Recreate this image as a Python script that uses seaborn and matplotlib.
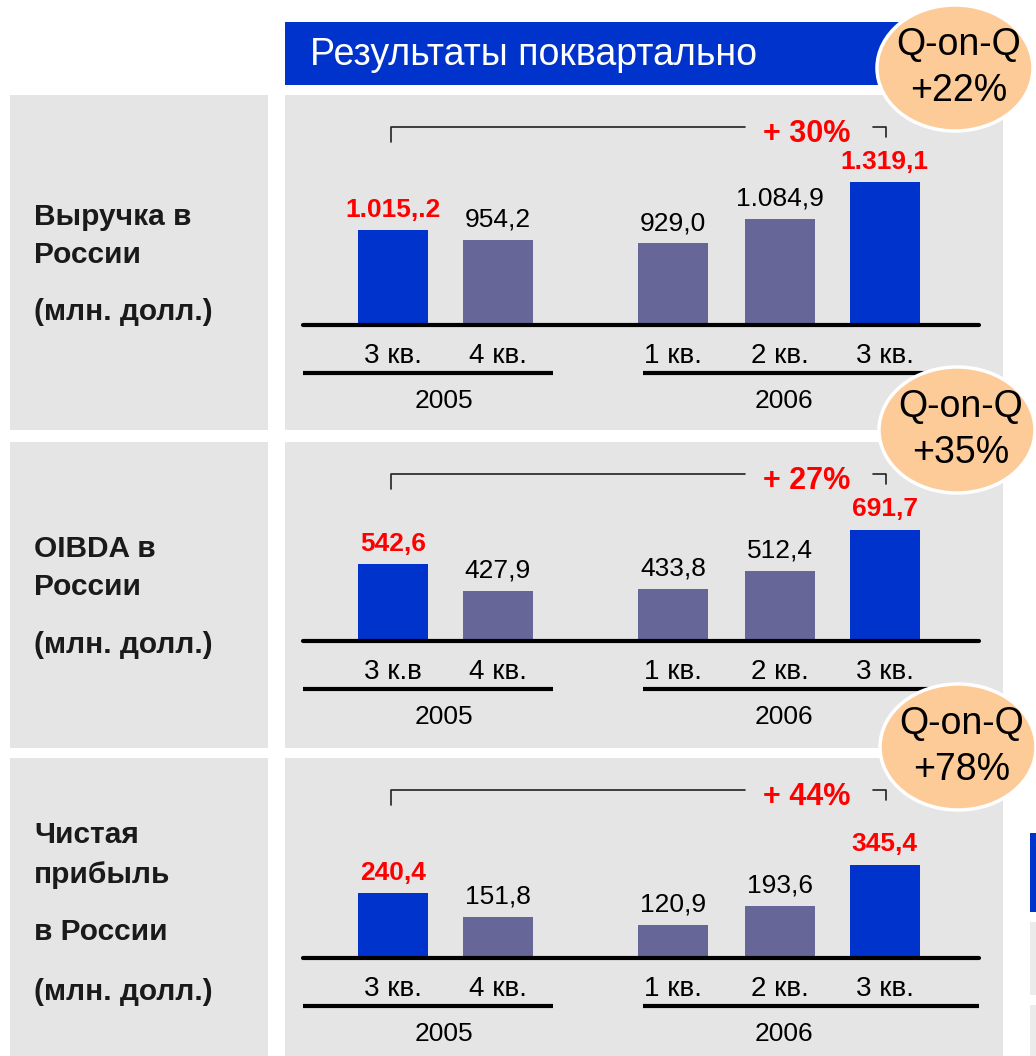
import numpy as np
import pandas as pd
import matplotlib
matplotlib.use("Agg")
import matplotlib.pyplot as plt
from matplotlib.patches import Rectangle, Ellipse
import seaborn as sns

# ---------------- data ----------------
title = "Результаты поквартально"
quarter_ids = ["2005 Q3", "2005 Q4", "2006 Q1", "2006 Q2", "2006 Q3"]
years = ["2005", "2006"]
quarter_labels = [
    ["3 кв.", "4 кв.", "1 кв.", "2 кв.", "3 кв."],
    ["3 к.в", "4 кв.", "1 кв.", "2 кв.", "3 кв."],
    ["3 кв.", "4 кв.", "1 кв.", "2 кв.", "3 кв."],
]
revenue = [1015.2, 954.2, 929.0, 1084.9, 1319.1]
oibda = [542.6, 427.9, 433.8, 512.4, 691.7]
net_income = [240.4, 151.8, 120.9, 193.6, 345.4]
revenue_labels = ["1.015,.2", "954,2", "929,0", "1.084,9", "1.319,1"]
oibda_labels = ["542,6", "427,9", "433,8", "512,4", "691,7"]
net_income_labels = ["240,4", "151,8", "120,9", "193,6", "345,4"]
highlight = [True, False, False, False, True]
growth_yoy = ["+ 30%", "+ 27%", "+ 44%"]
growth_qoq = ["Q-on-Q\n+22%", "Q-on-Q\n+35%", "Q-on-Q\n+78%"]
metric_lines = [
    ["Выручка в", "России", "(млн. долл.)"],
    ["OIBDA в", "России", "(млн. долл.)"],
    ["Чистая", "прибыль", "в России", "(млн. долл.)"],
]

# ---------------- style ----------------
sns.set_theme(style="white")
plt.rcParams['font.family'] = ['Liberation Sans', 'DejaVu Sans']

BLUE = "#0033CC"
SLATE = "#666699"
GREY = "#E5E5E5"
PEACH = "#FDCB98"
RED = "#FF0000"

W, HF = 1036, 1056
fig = plt.figure(figsize=(W / 100, HF / 100), dpi=100)
fig.patch.set_facecolor("white")

bg = fig.add_axes([0, 0, 1, 1], zorder=0)
bg.set_xlim(0, W)
bg.set_ylim(HF, 0)
bg.axis("off")

# title bar
bg.add_patch(Rectangle((285, 22), 640, 63, color=BLUE, lw=0))
bg.text(310, 55, title, color="white", fontsize=27, va="center", ha="left")

# panels: (top, bottom, baseline)
panels = [(95, 430, 325), (442, 748, 641), (758, 1056, 958)]
label_y = [[217, 255, 312], [549, 587, 645], [835, 875, 932, 992]]
for (top, bot, base), lines, ys in zip(panels, metric_lines, label_y):
    bg.add_patch(Rectangle((10, top), 258, bot - top, color=GREY, lw=0))
    bg.add_patch(Rectangle((285, top), 718, bot - top, color=GREY, lw=0))
    for t, yy in zip(lines, ys):
        bg.text(34, yy, t, fontsize=21.5, fontweight="bold", color="#1a1a1a",
                va="center", ha="left")

# right-edge fragments
bg.add_patch(Rectangle((1030, 833), 6, 79, color=BLUE, lw=0))
bg.add_patch(Rectangle((1030, 922), 6, 73, color="#EBEBEB", lw=0))
bg.add_patch(Rectangle((1030, 1005), 6, 51, color="#EBEBEB", lw=0))

positions = [0.0, 0.99, 2.64, 3.65, 4.64]
values = [revenue, oibda, net_income]
labels = [revenue_labels, oibda_labels, net_income_labels]
ylims = [(413, 1869), (210, 1070), (0, 740)]
palette = {q: (BLUE if h else SLATE) for q, h in zip(quarter_ids, highlight)}

for i, ((top, bot, base), vals, labs, qlabs, ylim, gtxt) in enumerate(
        zip(panels, values, labels, quarter_labels, ylims, growth_yoy)):
    H = base - top
    ax = fig.add_axes([285 / W, 1 - base / HF, 718 / W, H / HF], zorder=1)
    df = pd.DataFrame({"pos": positions, "value": vals, "quarter": quarter_ids})
    sns.barplot(data=df, x="pos", y="value", hue="quarter", hue_order=quarter_ids,
                palette=palette, native_scale=True, width=0.67, saturation=1,
                linewidth=0, legend=False, ax=ax)
    ax.set_xlim(-1.019, 5.755)
    ax.set_ylim(*ylim)
    ax.patch.set_visible(False)
    for s in ax.spines.values():
        s.set_visible(False)
    ax.set_yticks([])
    ax.set_xlabel("")
    ax.set_ylabel("")
    ax.set_xticks(positions, qlabs, fontsize=20, color="black")
    ax.tick_params(axis="x", length=0, pad=13, labelcolor="black")

    for cont, lab, h in zip(ax.containers, labs, highlight):
        ax.bar_label(cont, labels=[lab], padding=6, fontsize=19,
                     color=RED if h else "black",
                     fontweight="bold" if h else "normal")

    # baseline
    ax.axhline(ylim[0], xmin=18 / 718, xmax=694 / 718, color="black", lw=3,
               clip_on=False, zorder=5)
    tr = ax.get_xaxis_transform()
    # year underlines and labels
    y_ul = -48 / H
    y_yr = -76 / H
    ax.plot([-0.85, 1.51], [y_ul, y_ul], transform=tr, color="black", lw=3,
            clip_on=False, solid_capstyle="butt")
    ax.plot([2.36, 5.53], [y_ul, y_ul], transform=tr, color="black", lw=3,
            clip_on=False, solid_capstyle="butt")
    ax.text((positions[0] + positions[1]) / 2 - 0.01, y_yr, years[0], transform=tr,
            fontsize=19, ha="center", va="center", color="black")
    ax.text(positions[3] + 0.04, y_yr, years[1], transform=tr,
            fontsize=19, ha="center", va="center", color="black")

    # bracket
    yb = 1 - 32 / H
    ax.plot([positions[0] - 0.02, positions[0] - 0.02, positions[3] - 0.33],
            [1 - 47 / H, yb, yb], transform=tr, color="#222222", lw=1.2,
            clip_on=False)
    ax.plot([positions[4] - 0.11, positions[4] + 0.01, positions[4] + 0.01],
            [yb, yb, 1 - 42 / H], transform=tr, color="#222222", lw=1.2,
            clip_on=False)
    ax.text(positions[3] + 0.25, 1 - 39 / H, gtxt, transform=tr, fontsize=22,
            fontweight="bold", color=RED, ha="center", va="center")

# overlay: Q-on-Q ellipses
ov = fig.add_axes([0, 0, 1, 1], zorder=3)
ov.set_xlim(0, W)
ov.set_ylim(HF, 0)
ov.axis("off")
ov.patch.set_visible(False)
centers = [(955, 68), (957, 430), (958, 747)]
for (cx, cy), t in zip(centers, growth_qoq):
    ov.add_patch(Ellipse((cx, cy), 156, 126, facecolor=PEACH, edgecolor="white",
                         lw=2.5))
    q, p = t.split("\n")
    ov.text(cx + 4, cy - 23, q, fontsize=27, ha="center", va="center", color="black")
    ov.text(cx + 4, cy + 23, p, fontsize=27, ha="center", va="center", color="black")

fig.savefig("out.png", dpi=100)
